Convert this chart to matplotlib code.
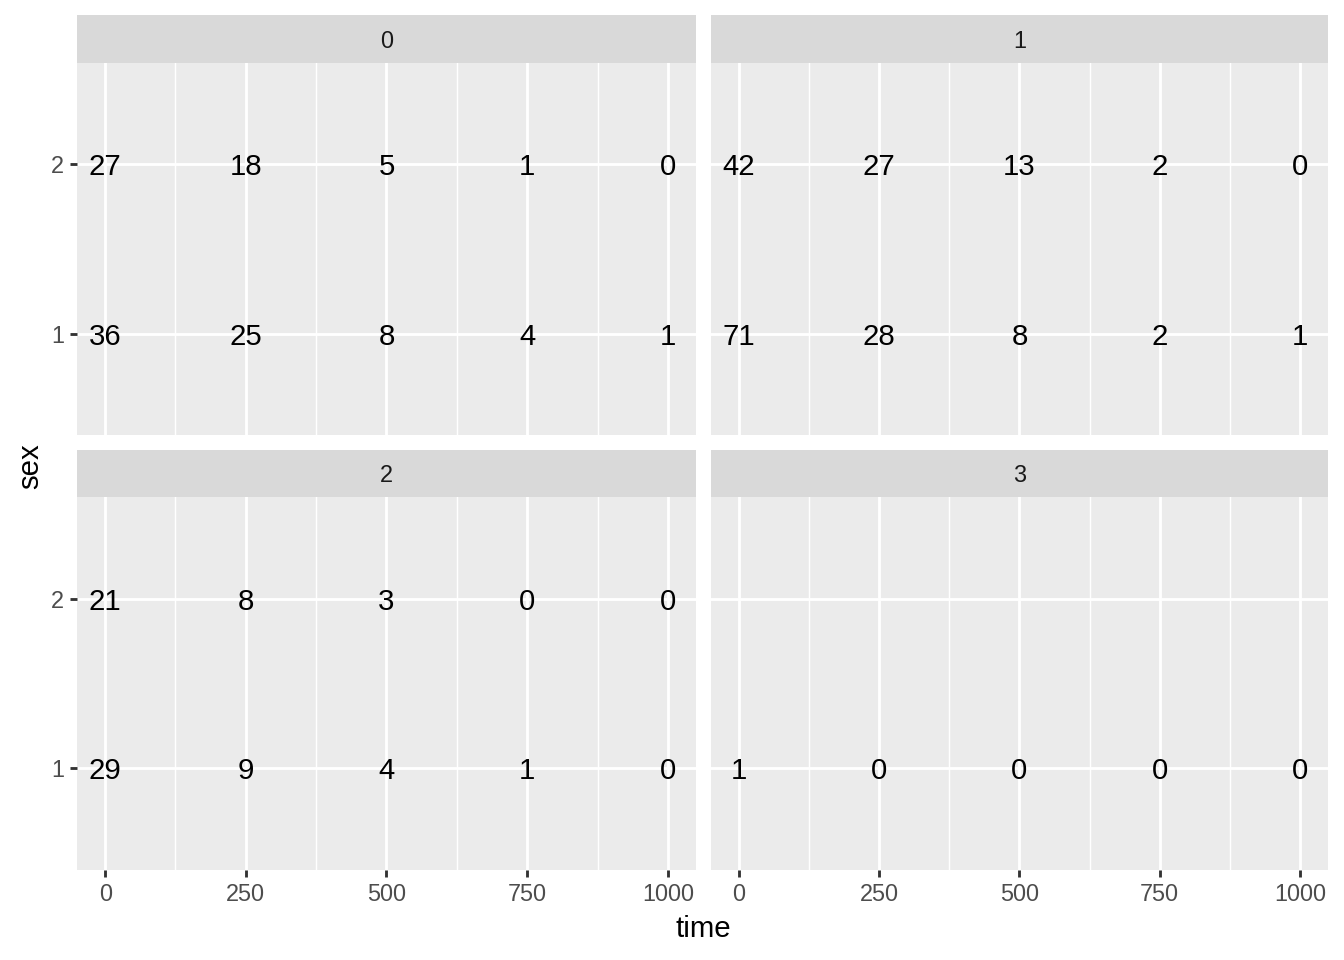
import matplotlib
matplotlib.use("Agg")
import matplotlib.pyplot as plt

# ---- data -----------------------------------------------------------------
times = [0, 250, 500, 750, 1000]
strata = ["0", "1", "2", "3"]
sex_levels = ["1", "2"]
# counts per stratum: {sex: values at each time}
risk_0 = {"1": [36, 25, 8, 4, 1], "2": [27, 18, 5, 1, 0]}
risk_1 = {"1": [71, 28, 8, 2, 1], "2": [42, 27, 13, 2, 0]}
risk_2 = {"1": [29, 9, 4, 1, 0], "2": [21, 8, 3, 0, 0]}
risk_3 = {"1": [1, 0, 0, 0, 0]}
risk = [risk_0, risk_1, risk_2, risk_3]

# ---- style ----------------------------------------------------------------
W, H = 1344, 960
PANEL_BG = "#EBEBEB"
STRIP_BG = "#D9D9D9"
plt.rcParams["font.family"] = ["Liberation Sans", "DejaVu Sans"]


def rect(x0, x1, y0, y1):
    return [x0 / W, 1 - y1 / H, (x1 - x0) / W, (y1 - y0) / H]


fig = plt.figure(figsize=(7, 5), dpi=192)

cols = [(77, 696), (711, 1328)]
rows = [((15, 63), (63, 435)), ((450, 497), (497, 870))]

for i, name in enumerate(strata):
    r, c = divmod(i, 2)
    (sy0, sy1), (py0, py1) = rows[r]
    x0, x1 = cols[c]

    # strip
    sax = fig.add_axes(rect(x0, x1, sy0, sy1))
    sax.set_facecolor(STRIP_BG)
    sax.set_xticks([])
    sax.set_yticks([])
    for s in sax.spines.values():
        s.set_visible(False)
    sax.text(0.5, 0.5, name, ha="center", va="center_baseline", fontsize=8.8,
             color="#1A1A1A", transform=sax.transAxes)

    # panel
    ax = fig.add_axes(rect(x0, x1, py0, py1))
    ax.set_facecolor(PANEL_BG)
    for s in ax.spines.values():
        s.set_visible(False)
    ax.set_xlim(-50, 1050)
    ax.set_ylim(0.4, 2.6)
    ax.set_xticks(times)
    ax.set_xticks([125, 375, 625, 875], minor=True)
    ax.set_yticks([1, 2])
    ax.grid(True, which="major", color="white", linewidth=1.07)
    ax.grid(True, which="minor", axis="x", color="white", linewidth=0.53)
    ax.set_axisbelow(True)
    ax.tick_params(which="minor", length=0)
    ax.tick_params(which="major", length=2.75, width=1.07, color="#333333",
                   labelsize=8.8, labelcolor="#4D4D4D", pad=2.2)

    if c == 0:
        ax.set_yticklabels(sex_levels)
    else:
        ax.tick_params(axis="y", left=False, labelleft=False)
    if r == 1:
        ax.set_xticklabels([str(t) for t in times])
    else:
        ax.tick_params(axis="x", bottom=False, labelbottom=False)

    for sex, vals in risk[i].items():
        for t, v in zip(times, vals):
            ax.text(t, int(sex), str(v), ha="center", va="center_baseline",
                    fontsize=11, color="black")

fig.text(703 / W, 1 - 929 / H, "time", ha="center", va="center", fontsize=11)
fig.text(30 / W, 1 - 466 / H, "sex", ha="center", va="center", fontsize=11,
         rotation=90)

fig.savefig("out.png", dpi=192, facecolor="white")
